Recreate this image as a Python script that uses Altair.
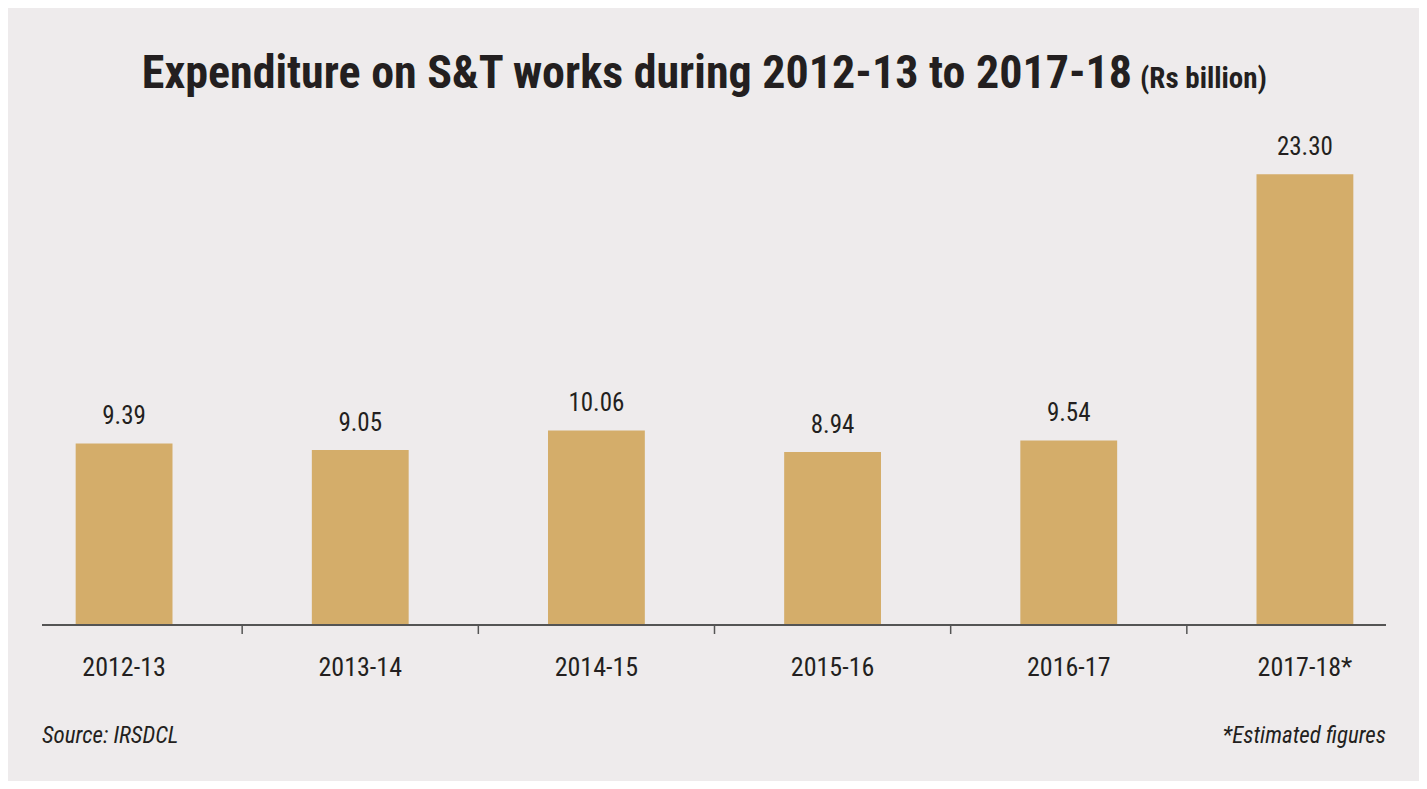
import altair as alt
import pandas as pd

categories = ["2012-13", "2013-14", "2014-15", "2015-16", "2016-17", "2017-18*"]
values = [9.39, 9.05, 10.06, 8.94, 9.54, 23.30]
value_labels = ["9.39", "9.05", "10.06", "8.94", "9.54", "23.30"]

title_main = "Expenditure on S&T works during 2012-13 to 2017-18"
title_unit = "(Rs billion)"
source_note = "Source: IRSDCL"
est_note = "*Estimated figures"

BG = "#EEEBEC"
BAR = "#D4AD6A"
TXT = "#231F20"
FONT = "'Roboto Condensed', Roboto, sans-serif"
TFONT = "'Roboto Condensed', Roboto, sans-serif"

df = pd.DataFrame({"cat": categories, "val": values, "lab": value_labels})
ticks_df = pd.DataFrame({"cat": categories[1:]})

W, H = 1411, 773
PLOT_H = 617
R0, R1 = -2, 1415
P_IN = 0.59
STEP = (R1 - R0) / len(categories)
GAP_HALF = STEP * P_IN / 2

xs = alt.Scale(domain=categories, range=[R0, R1], paddingInner=P_IN, paddingOuter=P_IN / 2)
ys = alt.Scale(domain=[0, 31.9], range=[PLOT_H, 0])

x_enc = alt.X("cat:N", scale=xs, axis=None, sort=categories)
y_enc = alt.Y("val:Q", scale=ys, axis=None)

bars = alt.Chart(df).mark_bar(color=BAR).encode(x=x_enc, y=y_enc)

vlabels = alt.Chart(df).mark_text(
    font=FONT, fontSize=25, color=TXT, baseline="alphabetic", dy=-19
).encode(x=x_enc, y=y_enc, text="lab:N")

clabels = alt.Chart(df).mark_text(
    font=FONT, fontSize=26, color=TXT, baseline="middle"
).encode(x=x_enc, y=alt.value(PLOT_H + 43), text="cat:N")

baseline = alt.Chart(df).mark_rule(color="#555555", strokeWidth=1.5).encode(
    x=alt.value(34), x2=alt.value(1378), y=alt.value(PLOT_H)
)

ticks = alt.Chart(ticks_df).mark_rule(color="#555555", strokeWidth=1.5, xOffset=-GAP_HALF).encode(
    x=alt.X("cat:N", scale=xs, axis=None, sort=categories, bandPosition=0),
    y=alt.value(PLOT_H), y2=alt.value(PLOT_H + 9)
)

t1 = alt.Chart(pd.DataFrame({"t": [title_main]})).mark_text(
    font=TFONT, fontWeight="bold", fontSize=46, color=TXT, align="right", baseline="alphabetic"
).encode(x=alt.value(1124), y=alt.value(80), text="t:N")

t2 = alt.Chart(pd.DataFrame({"t": [title_unit]})).mark_text(
    font=TFONT, fontWeight="bold", fontSize=29, color=TXT, align="left", baseline="alphabetic"
).encode(x=alt.value(1132), y=alt.value(80), text="t:N")

f1 = alt.Chart(pd.DataFrame({"t": [source_note]})).mark_text(
    font=FONT, fontStyle="italic", fontSize=23, color=TXT, align="left", baseline="alphabetic"
).encode(x=alt.value(34), y=alt.value(735), text="t:N")

f2 = alt.Chart(pd.DataFrame({"t": [est_note]})).mark_text(
    font=FONT, fontStyle="italic", fontSize=23, color=TXT, align="right", baseline="alphabetic"
).encode(x=alt.value(1378), y=alt.value(735), text="t:N")

chart = alt.layer(bars, vlabels, clabels, baseline, ticks, t1, t2, f1, f2).properties(
    width=W, height=H,
    autosize=alt.AutoSizeParams(type="none"),
    padding=0,
    background=BG,
).configure_view(stroke=None)

chart.save("out.html", embed_options={"renderer": "svg", "actions": False})
